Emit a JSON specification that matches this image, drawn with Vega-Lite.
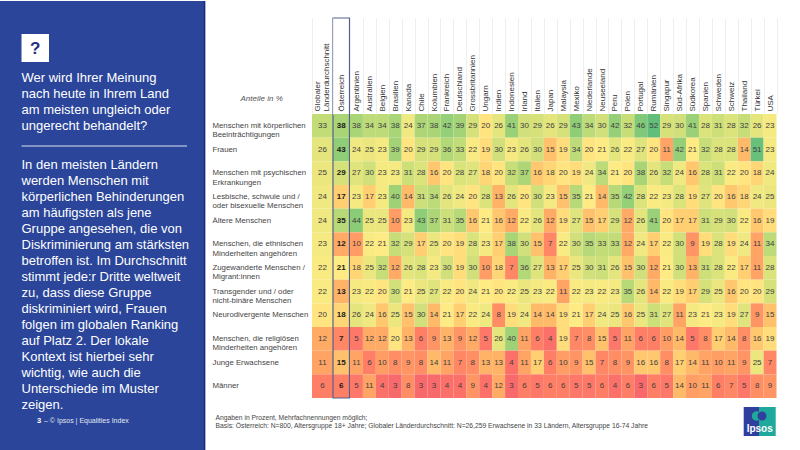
{"$schema":"https://vega.github.io/schema/vega-lite/v6.json","padding":0,"background":"white","spacing":0,
"config":{"view":{"stroke":null},"font":"Liberation Sans","axisX":{"domain":false,"tickBand":"extent","tickSize":96,"tickColor":"#eeeeee","labelAngle":-90,"labelAlign":"left","labelBaseline":"middle","labelPadding":-93,"labelFont":"Liberation Sans","labelFontSize":8,"labelColor":"#333333","labelLineHeight":9,"minExtent":113,"maxExtent":113}},
"datasets":{"zellen":[
{"Gruppe":"Körper","Land":"Global","Wert":33},{"Gruppe":"Körper","Land":"Österreich","Wert":38},{"Gruppe":"Körper","Land":"Argentinien","Wert":38},{"Gruppe":"Körper","Land":"Australien","Wert":34},{"Gruppe":"Körper","Land":"Belgien","Wert":34},{"Gruppe":"Körper","Land":"Brasilien","Wert":38},{"Gruppe":"Körper","Land":"Kanada","Wert":24},{"Gruppe":"Körper","Land":"Chile","Wert":37},{"Gruppe":"Körper","Land":"Kolumbien","Wert":38},{"Gruppe":"Körper","Land":"Frankreich","Wert":42},{"Gruppe":"Körper","Land":"Deutschland","Wert":39},{"Gruppe":"Körper","Land":"Grossbritannien","Wert":29},{"Gruppe":"Körper","Land":"Ungarn","Wert":20},{"Gruppe":"Körper","Land":"Indien","Wert":26},{"Gruppe":"Körper","Land":"Indonesien","Wert":41},{"Gruppe":"Körper","Land":"Irland","Wert":30},{"Gruppe":"Körper","Land":"Italien","Wert":29},{"Gruppe":"Körper","Land":"Japan","Wert":26},{"Gruppe":"Körper","Land":"Malaysia","Wert":29},{"Gruppe":"Körper","Land":"Mexiko","Wert":43},{"Gruppe":"Körper","Land":"Niederlande","Wert":34},{"Gruppe":"Körper","Land":"Neuseeland","Wert":30},{"Gruppe":"Körper","Land":"Peru","Wert":42},{"Gruppe":"Körper","Land":"Polen","Wert":32},{"Gruppe":"Körper","Land":"Portugal","Wert":46},{"Gruppe":"Körper","Land":"Rumänien","Wert":52},{"Gruppe":"Körper","Land":"Singapur","Wert":29},{"Gruppe":"Körper","Land":"Süd-Afrika","Wert":30},{"Gruppe":"Körper","Land":"Südkorea","Wert":41},{"Gruppe":"Körper","Land":"Spanien","Wert":28},{"Gruppe":"Körper","Land":"Schweden","Wert":31},{"Gruppe":"Körper","Land":"Schweiz","Wert":28},{"Gruppe":"Körper","Land":"Thailand","Wert":32},{"Gruppe":"Körper","Land":"Türkei","Wert":26},{"Gruppe":"Körper","Land":"USA","Wert":23},
{"Gruppe":"Frauen","Land":"Global","Wert":26},{"Gruppe":"Frauen","Land":"Österreich","Wert":43},{"Gruppe":"Frauen","Land":"Argentinien","Wert":24},{"Gruppe":"Frauen","Land":"Australien","Wert":25},{"Gruppe":"Frauen","Land":"Belgien","Wert":23},{"Gruppe":"Frauen","Land":"Brasilien","Wert":39},{"Gruppe":"Frauen","Land":"Kanada","Wert":20},{"Gruppe":"Frauen","Land":"Chile","Wert":29},{"Gruppe":"Frauen","Land":"Kolumbien","Wert":29},{"Gruppe":"Frauen","Land":"Frankreich","Wert":36},{"Gruppe":"Frauen","Land":"Deutschland","Wert":33},{"Gruppe":"Frauen","Land":"Grossbritannien","Wert":22},{"Gruppe":"Frauen","Land":"Ungarn","Wert":19},{"Gruppe":"Frauen","Land":"Indien","Wert":30},{"Gruppe":"Frauen","Land":"Indonesien","Wert":23},{"Gruppe":"Frauen","Land":"Irland","Wert":26},{"Gruppe":"Frauen","Land":"Italien","Wert":30},{"Gruppe":"Frauen","Land":"Japan","Wert":15},{"Gruppe":"Frauen","Land":"Malaysia","Wert":19},{"Gruppe":"Frauen","Land":"Mexiko","Wert":34},{"Gruppe":"Frauen","Land":"Niederlande","Wert":20},{"Gruppe":"Frauen","Land":"Neuseeland","Wert":21},{"Gruppe":"Frauen","Land":"Peru","Wert":26},{"Gruppe":"Frauen","Land":"Polen","Wert":22},{"Gruppe":"Frauen","Land":"Portugal","Wert":27},{"Gruppe":"Frauen","Land":"Rumänien","Wert":20},{"Gruppe":"Frauen","Land":"Singapur","Wert":11},{"Gruppe":"Frauen","Land":"Süd-Afrika","Wert":42},{"Gruppe":"Frauen","Land":"Südkorea","Wert":21},{"Gruppe":"Frauen","Land":"Spanien","Wert":32},{"Gruppe":"Frauen","Land":"Schweden","Wert":28},{"Gruppe":"Frauen","Land":"Schweiz","Wert":28},{"Gruppe":"Frauen","Land":"Thailand","Wert":14},{"Gruppe":"Frauen","Land":"Türkei","Wert":51},{"Gruppe":"Frauen","Land":"USA","Wert":23},
{"Gruppe":"Psyche","Land":"Global","Wert":25},{"Gruppe":"Psyche","Land":"Österreich","Wert":29},{"Gruppe":"Psyche","Land":"Argentinien","Wert":27},{"Gruppe":"Psyche","Land":"Australien","Wert":30},{"Gruppe":"Psyche","Land":"Belgien","Wert":23},{"Gruppe":"Psyche","Land":"Brasilien","Wert":23},{"Gruppe":"Psyche","Land":"Kanada","Wert":31},{"Gruppe":"Psyche","Land":"Chile","Wert":28},{"Gruppe":"Psyche","Land":"Kolumbien","Wert":16},{"Gruppe":"Psyche","Land":"Frankreich","Wert":20},{"Gruppe":"Psyche","Land":"Deutschland","Wert":28},{"Gruppe":"Psyche","Land":"Grossbritannien","Wert":27},{"Gruppe":"Psyche","Land":"Ungarn","Wert":18},{"Gruppe":"Psyche","Land":"Indien","Wert":20},{"Gruppe":"Psyche","Land":"Indonesien","Wert":32},{"Gruppe":"Psyche","Land":"Irland","Wert":37},{"Gruppe":"Psyche","Land":"Italien","Wert":16},{"Gruppe":"Psyche","Land":"Japan","Wert":18},{"Gruppe":"Psyche","Land":"Malaysia","Wert":20},{"Gruppe":"Psyche","Land":"Mexiko","Wert":19},{"Gruppe":"Psyche","Land":"Niederlande","Wert":24},{"Gruppe":"Psyche","Land":"Neuseeland","Wert":34},{"Gruppe":"Psyche","Land":"Peru","Wert":21},{"Gruppe":"Psyche","Land":"Polen","Wert":20},{"Gruppe":"Psyche","Land":"Portugal","Wert":38},{"Gruppe":"Psyche","Land":"Rumänien","Wert":26},{"Gruppe":"Psyche","Land":"Singapur","Wert":32},{"Gruppe":"Psyche","Land":"Süd-Afrika","Wert":24},{"Gruppe":"Psyche","Land":"Südkorea","Wert":16},{"Gruppe":"Psyche","Land":"Spanien","Wert":28},{"Gruppe":"Psyche","Land":"Schweden","Wert":31},{"Gruppe":"Psyche","Land":"Schweiz","Wert":22},{"Gruppe":"Psyche","Land":"Thailand","Wert":20},{"Gruppe":"Psyche","Land":"Türkei","Wert":18},{"Gruppe":"Psyche","Land":"USA","Wert":24},
{"Gruppe":"LGB","Land":"Global","Wert":24},{"Gruppe":"LGB","Land":"Österreich","Wert":17},{"Gruppe":"LGB","Land":"Argentinien","Wert":23},{"Gruppe":"LGB","Land":"Australien","Wert":17},{"Gruppe":"LGB","Land":"Belgien","Wert":23},{"Gruppe":"LGB","Land":"Brasilien","Wert":40},{"Gruppe":"LGB","Land":"Kanada","Wert":14},{"Gruppe":"LGB","Land":"Chile","Wert":31},{"Gruppe":"LGB","Land":"Kolumbien","Wert":34},{"Gruppe":"LGB","Land":"Frankreich","Wert":26},{"Gruppe":"LGB","Land":"Deutschland","Wert":24},{"Gruppe":"LGB","Land":"Grossbritannien","Wert":20},{"Gruppe":"LGB","Land":"Ungarn","Wert":28},{"Gruppe":"LGB","Land":"Indien","Wert":13},{"Gruppe":"LGB","Land":"Indonesien","Wert":26},{"Gruppe":"LGB","Land":"Irland","Wert":20},{"Gruppe":"LGB","Land":"Italien","Wert":30},{"Gruppe":"LGB","Land":"Japan","Wert":23},{"Gruppe":"LGB","Land":"Malaysia","Wert":15},{"Gruppe":"LGB","Land":"Mexiko","Wert":35},{"Gruppe":"LGB","Land":"Niederlande","Wert":21},{"Gruppe":"LGB","Land":"Neuseeland","Wert":14},{"Gruppe":"LGB","Land":"Peru","Wert":35},{"Gruppe":"LGB","Land":"Polen","Wert":42},{"Gruppe":"LGB","Land":"Portugal","Wert":28},{"Gruppe":"LGB","Land":"Rumänien","Wert":22},{"Gruppe":"LGB","Land":"Singapur","Wert":23},{"Gruppe":"LGB","Land":"Süd-Afrika","Wert":28},{"Gruppe":"LGB","Land":"Südkorea","Wert":19},{"Gruppe":"LGB","Land":"Spanien","Wert":27},{"Gruppe":"LGB","Land":"Schweden","Wert":20},{"Gruppe":"LGB","Land":"Schweiz","Wert":16},{"Gruppe":"LGB","Land":"Thailand","Wert":18},{"Gruppe":"LGB","Land":"Türkei","Wert":24},{"Gruppe":"LGB","Land":"USA","Wert":25},
{"Gruppe":"Ältere","Land":"Global","Wert":24},{"Gruppe":"Ältere","Land":"Österreich","Wert":35},{"Gruppe":"Ältere","Land":"Argentinien","Wert":44},{"Gruppe":"Ältere","Land":"Australien","Wert":25},{"Gruppe":"Ältere","Land":"Belgien","Wert":25},{"Gruppe":"Ältere","Land":"Brasilien","Wert":10},{"Gruppe":"Ältere","Land":"Kanada","Wert":23},{"Gruppe":"Ältere","Land":"Chile","Wert":43},{"Gruppe":"Ältere","Land":"Kolumbien","Wert":37},{"Gruppe":"Ältere","Land":"Frankreich","Wert":31},{"Gruppe":"Ältere","Land":"Deutschland","Wert":35},{"Gruppe":"Ältere","Land":"Grossbritannien","Wert":16},{"Gruppe":"Ältere","Land":"Ungarn","Wert":21},{"Gruppe":"Ältere","Land":"Indien","Wert":16},{"Gruppe":"Ältere","Land":"Indonesien","Wert":12},{"Gruppe":"Ältere","Land":"Irland","Wert":22},{"Gruppe":"Ältere","Land":"Italien","Wert":26},{"Gruppe":"Ältere","Land":"Japan","Wert":12},{"Gruppe":"Ältere","Land":"Malaysia","Wert":19},{"Gruppe":"Ältere","Land":"Mexiko","Wert":27},{"Gruppe":"Ältere","Land":"Niederlande","Wert":15},{"Gruppe":"Ältere","Land":"Neuseeland","Wert":17},{"Gruppe":"Ältere","Land":"Peru","Wert":29},{"Gruppe":"Ältere","Land":"Polen","Wert":12},{"Gruppe":"Ältere","Land":"Portugal","Wert":26},{"Gruppe":"Ältere","Land":"Rumänien","Wert":41},{"Gruppe":"Ältere","Land":"Singapur","Wert":20},{"Gruppe":"Ältere","Land":"Süd-Afrika","Wert":17},{"Gruppe":"Ältere","Land":"Südkorea","Wert":17},{"Gruppe":"Ältere","Land":"Spanien","Wert":31},{"Gruppe":"Ältere","Land":"Schweden","Wert":29},{"Gruppe":"Ältere","Land":"Schweiz","Wert":30},{"Gruppe":"Ältere","Land":"Thailand","Wert":22},{"Gruppe":"Ältere","Land":"Türkei","Wert":16},{"Gruppe":"Ältere","Land":"USA","Wert":19},
{"Gruppe":"Ethnie","Land":"Global","Wert":23},{"Gruppe":"Ethnie","Land":"Österreich","Wert":12},{"Gruppe":"Ethnie","Land":"Argentinien","Wert":10},{"Gruppe":"Ethnie","Land":"Australien","Wert":22},{"Gruppe":"Ethnie","Land":"Belgien","Wert":21},{"Gruppe":"Ethnie","Land":"Brasilien","Wert":32},{"Gruppe":"Ethnie","Land":"Kanada","Wert":29},{"Gruppe":"Ethnie","Land":"Chile","Wert":17},{"Gruppe":"Ethnie","Land":"Kolumbien","Wert":25},{"Gruppe":"Ethnie","Land":"Frankreich","Wert":20},{"Gruppe":"Ethnie","Land":"Deutschland","Wert":19},{"Gruppe":"Ethnie","Land":"Grossbritannien","Wert":28},{"Gruppe":"Ethnie","Land":"Ungarn","Wert":23},{"Gruppe":"Ethnie","Land":"Indien","Wert":17},{"Gruppe":"Ethnie","Land":"Indonesien","Wert":38},{"Gruppe":"Ethnie","Land":"Irland","Wert":30},{"Gruppe":"Ethnie","Land":"Italien","Wert":15},{"Gruppe":"Ethnie","Land":"Japan","Wert":7},{"Gruppe":"Ethnie","Land":"Malaysia","Wert":22},{"Gruppe":"Ethnie","Land":"Mexiko","Wert":30},{"Gruppe":"Ethnie","Land":"Niederlande","Wert":35},{"Gruppe":"Ethnie","Land":"Neuseeland","Wert":33},{"Gruppe":"Ethnie","Land":"Peru","Wert":33},{"Gruppe":"Ethnie","Land":"Polen","Wert":12},{"Gruppe":"Ethnie","Land":"Portugal","Wert":24},{"Gruppe":"Ethnie","Land":"Rumänien","Wert":17},{"Gruppe":"Ethnie","Land":"Singapur","Wert":22},{"Gruppe":"Ethnie","Land":"Süd-Afrika","Wert":30},{"Gruppe":"Ethnie","Land":"Südkorea","Wert":9},{"Gruppe":"Ethnie","Land":"Spanien","Wert":19},{"Gruppe":"Ethnie","Land":"Schweden","Wert":28},{"Gruppe":"Ethnie","Land":"Schweiz","Wert":19},{"Gruppe":"Ethnie","Land":"Thailand","Wert":24},{"Gruppe":"Ethnie","Land":"Türkei","Wert":11},{"Gruppe":"Ethnie","Land":"USA","Wert":34},
{"Gruppe":"Migration","Land":"Global","Wert":22},{"Gruppe":"Migration","Land":"Österreich","Wert":21},{"Gruppe":"Migration","Land":"Argentinien","Wert":18},{"Gruppe":"Migration","Land":"Australien","Wert":25},{"Gruppe":"Migration","Land":"Belgien","Wert":32},{"Gruppe":"Migration","Land":"Brasilien","Wert":12},{"Gruppe":"Migration","Land":"Kanada","Wert":26},{"Gruppe":"Migration","Land":"Chile","Wert":28},{"Gruppe":"Migration","Land":"Kolumbien","Wert":23},{"Gruppe":"Migration","Land":"Frankreich","Wert":30},{"Gruppe":"Migration","Land":"Deutschland","Wert":19},{"Gruppe":"Migration","Land":"Grossbritannien","Wert":30},{"Gruppe":"Migration","Land":"Ungarn","Wert":10},{"Gruppe":"Migration","Land":"Indien","Wert":18},{"Gruppe":"Migration","Land":"Indonesien","Wert":7},{"Gruppe":"Migration","Land":"Irland","Wert":36},{"Gruppe":"Migration","Land":"Italien","Wert":27},{"Gruppe":"Migration","Land":"Japan","Wert":13},{"Gruppe":"Migration","Land":"Malaysia","Wert":17},{"Gruppe":"Migration","Land":"Mexiko","Wert":25},{"Gruppe":"Migration","Land":"Niederlande","Wert":30},{"Gruppe":"Migration","Land":"Neuseeland","Wert":31},{"Gruppe":"Migration","Land":"Peru","Wert":26},{"Gruppe":"Migration","Land":"Polen","Wert":15},{"Gruppe":"Migration","Land":"Portugal","Wert":30},{"Gruppe":"Migration","Land":"Rumänien","Wert":12},{"Gruppe":"Migration","Land":"Singapur","Wert":21},{"Gruppe":"Migration","Land":"Süd-Afrika","Wert":30},{"Gruppe":"Migration","Land":"Südkorea","Wert":13},{"Gruppe":"Migration","Land":"Spanien","Wert":31},{"Gruppe":"Migration","Land":"Schweden","Wert":28},{"Gruppe":"Migration","Land":"Schweiz","Wert":22},{"Gruppe":"Migration","Land":"Thailand","Wert":17},{"Gruppe":"Migration","Land":"Türkei","Wert":11},{"Gruppe":"Migration","Land":"USA","Wert":28},
{"Gruppe":"Trans","Land":"Global","Wert":22},{"Gruppe":"Trans","Land":"Österreich","Wert":13},{"Gruppe":"Trans","Land":"Argentinien","Wert":23},{"Gruppe":"Trans","Land":"Australien","Wert":22},{"Gruppe":"Trans","Land":"Belgien","Wert":20},{"Gruppe":"Trans","Land":"Brasilien","Wert":30},{"Gruppe":"Trans","Land":"Kanada","Wert":21},{"Gruppe":"Trans","Land":"Chile","Wert":25},{"Gruppe":"Trans","Land":"Kolumbien","Wert":27},{"Gruppe":"Trans","Land":"Frankreich","Wert":22},{"Gruppe":"Trans","Land":"Deutschland","Wert":20},{"Gruppe":"Trans","Land":"Grossbritannien","Wert":24},{"Gruppe":"Trans","Land":"Ungarn","Wert":21},{"Gruppe":"Trans","Land":"Indien","Wert":20},{"Gruppe":"Trans","Land":"Indonesien","Wert":22},{"Gruppe":"Trans","Land":"Irland","Wert":25},{"Gruppe":"Trans","Land":"Italien","Wert":23},{"Gruppe":"Trans","Land":"Japan","Wert":22},{"Gruppe":"Trans","Land":"Malaysia","Wert":11},{"Gruppe":"Trans","Land":"Mexiko","Wert":22},{"Gruppe":"Trans","Land":"Niederlande","Wert":23},{"Gruppe":"Trans","Land":"Neuseeland","Wert":22},{"Gruppe":"Trans","Land":"Peru","Wert":23},{"Gruppe":"Trans","Land":"Polen","Wert":35},{"Gruppe":"Trans","Land":"Portugal","Wert":26},{"Gruppe":"Trans","Land":"Rumänien","Wert":14},{"Gruppe":"Trans","Land":"Singapur","Wert":22},{"Gruppe":"Trans","Land":"Süd-Afrika","Wert":19},{"Gruppe":"Trans","Land":"Südkorea","Wert":17},{"Gruppe":"Trans","Land":"Spanien","Wert":29},{"Gruppe":"Trans","Land":"Schweden","Wert":25},{"Gruppe":"Trans","Land":"Schweiz","Wert":16},{"Gruppe":"Trans","Land":"Thailand","Wert":20},{"Gruppe":"Trans","Land":"Türkei","Wert":20},{"Gruppe":"Trans","Land":"USA","Wert":29},
{"Gruppe":"Neuro","Land":"Global","Wert":20},{"Gruppe":"Neuro","Land":"Österreich","Wert":18},{"Gruppe":"Neuro","Land":"Argentinien","Wert":26},{"Gruppe":"Neuro","Land":"Australien","Wert":24},{"Gruppe":"Neuro","Land":"Belgien","Wert":16},{"Gruppe":"Neuro","Land":"Brasilien","Wert":25},{"Gruppe":"Neuro","Land":"Kanada","Wert":15},{"Gruppe":"Neuro","Land":"Chile","Wert":30},{"Gruppe":"Neuro","Land":"Kolumbien","Wert":14},{"Gruppe":"Neuro","Land":"Frankreich","Wert":21},{"Gruppe":"Neuro","Land":"Deutschland","Wert":17},{"Gruppe":"Neuro","Land":"Grossbritannien","Wert":22},{"Gruppe":"Neuro","Land":"Ungarn","Wert":24},{"Gruppe":"Neuro","Land":"Indien","Wert":8},{"Gruppe":"Neuro","Land":"Indonesien","Wert":19},{"Gruppe":"Neuro","Land":"Irland","Wert":24},{"Gruppe":"Neuro","Land":"Italien","Wert":14},{"Gruppe":"Neuro","Land":"Japan","Wert":14},{"Gruppe":"Neuro","Land":"Malaysia","Wert":19},{"Gruppe":"Neuro","Land":"Mexiko","Wert":21},{"Gruppe":"Neuro","Land":"Niederlande","Wert":17},{"Gruppe":"Neuro","Land":"Neuseeland","Wert":24},{"Gruppe":"Neuro","Land":"Peru","Wert":25},{"Gruppe":"Neuro","Land":"Polen","Wert":16},{"Gruppe":"Neuro","Land":"Portugal","Wert":25},{"Gruppe":"Neuro","Land":"Rumänien","Wert":31},{"Gruppe":"Neuro","Land":"Singapur","Wert":27},{"Gruppe":"Neuro","Land":"Süd-Afrika","Wert":11},{"Gruppe":"Neuro","Land":"Südkorea","Wert":23},{"Gruppe":"Neuro","Land":"Spanien","Wert":21},{"Gruppe":"Neuro","Land":"Schweden","Wert":23},{"Gruppe":"Neuro","Land":"Schweiz","Wert":19},{"Gruppe":"Neuro","Land":"Thailand","Wert":27},{"Gruppe":"Neuro","Land":"Türkei","Wert":9},{"Gruppe":"Neuro","Land":"USA","Wert":15},
{"Gruppe":"Religion","Land":"Global","Wert":12},{"Gruppe":"Religion","Land":"Österreich","Wert":7},{"Gruppe":"Religion","Land":"Argentinien","Wert":5},{"Gruppe":"Religion","Land":"Australien","Wert":12},{"Gruppe":"Religion","Land":"Belgien","Wert":12},{"Gruppe":"Religion","Land":"Brasilien","Wert":20},{"Gruppe":"Religion","Land":"Kanada","Wert":13},{"Gruppe":"Religion","Land":"Chile","Wert":6},{"Gruppe":"Religion","Land":"Kolumbien","Wert":9},{"Gruppe":"Religion","Land":"Frankreich","Wert":13},{"Gruppe":"Religion","Land":"Deutschland","Wert":9},{"Gruppe":"Religion","Land":"Grossbritannien","Wert":12},{"Gruppe":"Religion","Land":"Ungarn","Wert":5},{"Gruppe":"Religion","Land":"Indien","Wert":26},{"Gruppe":"Religion","Land":"Indonesien","Wert":40},{"Gruppe":"Religion","Land":"Irland","Wert":11},{"Gruppe":"Religion","Land":"Italien","Wert":6},{"Gruppe":"Religion","Land":"Japan","Wert":4},{"Gruppe":"Religion","Land":"Malaysia","Wert":19},{"Gruppe":"Religion","Land":"Mexiko","Wert":7},{"Gruppe":"Religion","Land":"Niederlande","Wert":8},{"Gruppe":"Religion","Land":"Neuseeland","Wert":15},{"Gruppe":"Religion","Land":"Peru","Wert":5},{"Gruppe":"Religion","Land":"Polen","Wert":11},{"Gruppe":"Religion","Land":"Portugal","Wert":6},{"Gruppe":"Religion","Land":"Rumänien","Wert":6},{"Gruppe":"Religion","Land":"Singapur","Wert":10},{"Gruppe":"Religion","Land":"Süd-Afrika","Wert":14},{"Gruppe":"Religion","Land":"Südkorea","Wert":5},{"Gruppe":"Religion","Land":"Spanien","Wert":8},{"Gruppe":"Religion","Land":"Schweden","Wert":17},{"Gruppe":"Religion","Land":"Schweiz","Wert":14},{"Gruppe":"Religion","Land":"Thailand","Wert":8},{"Gruppe":"Religion","Land":"Türkei","Wert":16},{"Gruppe":"Religion","Land":"USA","Wert":19},
{"Gruppe":"Junge","Land":"Global","Wert":11},{"Gruppe":"Junge","Land":"Österreich","Wert":15},{"Gruppe":"Junge","Land":"Argentinien","Wert":11},{"Gruppe":"Junge","Land":"Australien","Wert":6},{"Gruppe":"Junge","Land":"Belgien","Wert":10},{"Gruppe":"Junge","Land":"Brasilien","Wert":8},{"Gruppe":"Junge","Land":"Kanada","Wert":9},{"Gruppe":"Junge","Land":"Chile","Wert":8},{"Gruppe":"Junge","Land":"Kolumbien","Wert":14},{"Gruppe":"Junge","Land":"Frankreich","Wert":11},{"Gruppe":"Junge","Land":"Deutschland","Wert":7},{"Gruppe":"Junge","Land":"Grossbritannien","Wert":8},{"Gruppe":"Junge","Land":"Ungarn","Wert":13},{"Gruppe":"Junge","Land":"Indien","Wert":13},{"Gruppe":"Junge","Land":"Indonesien","Wert":4},{"Gruppe":"Junge","Land":"Irland","Wert":11},{"Gruppe":"Junge","Land":"Italien","Wert":17},{"Gruppe":"Junge","Land":"Japan","Wert":6},{"Gruppe":"Junge","Land":"Malaysia","Wert":10},{"Gruppe":"Junge","Land":"Mexiko","Wert":9},{"Gruppe":"Junge","Land":"Niederlande","Wert":15},{"Gruppe":"Junge","Land":"Neuseeland","Wert":7},{"Gruppe":"Junge","Land":"Peru","Wert":8},{"Gruppe":"Junge","Land":"Polen","Wert":9},{"Gruppe":"Junge","Land":"Portugal","Wert":16},{"Gruppe":"Junge","Land":"Rumänien","Wert":16},{"Gruppe":"Junge","Land":"Singapur","Wert":8},{"Gruppe":"Junge","Land":"Süd-Afrika","Wert":17},{"Gruppe":"Junge","Land":"Südkorea","Wert":14},{"Gruppe":"Junge","Land":"Spanien","Wert":11},{"Gruppe":"Junge","Land":"Schweden","Wert":10},{"Gruppe":"Junge","Land":"Schweiz","Wert":11},{"Gruppe":"Junge","Land":"Thailand","Wert":9},{"Gruppe":"Junge","Land":"Türkei","Wert":25},{"Gruppe":"Junge","Land":"USA","Wert":7},
{"Gruppe":"Männer","Land":"Global","Wert":6},{"Gruppe":"Männer","Land":"Österreich","Wert":6},{"Gruppe":"Männer","Land":"Argentinien","Wert":5},{"Gruppe":"Männer","Land":"Australien","Wert":11},{"Gruppe":"Männer","Land":"Belgien","Wert":4},{"Gruppe":"Männer","Land":"Brasilien","Wert":3},{"Gruppe":"Männer","Land":"Kanada","Wert":8},{"Gruppe":"Männer","Land":"Chile","Wert":3},{"Gruppe":"Männer","Land":"Kolumbien","Wert":3},{"Gruppe":"Männer","Land":"Frankreich","Wert":4},{"Gruppe":"Männer","Land":"Deutschland","Wert":4},{"Gruppe":"Männer","Land":"Grossbritannien","Wert":9},{"Gruppe":"Männer","Land":"Ungarn","Wert":4},{"Gruppe":"Männer","Land":"Indien","Wert":12},{"Gruppe":"Männer","Land":"Indonesien","Wert":3},{"Gruppe":"Männer","Land":"Irland","Wert":6},{"Gruppe":"Männer","Land":"Italien","Wert":5},{"Gruppe":"Männer","Land":"Japan","Wert":6},{"Gruppe":"Männer","Land":"Malaysia","Wert":6},{"Gruppe":"Männer","Land":"Mexiko","Wert":5},{"Gruppe":"Männer","Land":"Niederlande","Wert":5},{"Gruppe":"Männer","Land":"Neuseeland","Wert":6},{"Gruppe":"Männer","Land":"Peru","Wert":4},{"Gruppe":"Männer","Land":"Polen","Wert":6},{"Gruppe":"Männer","Land":"Portugal","Wert":3},{"Gruppe":"Männer","Land":"Rumänien","Wert":6},{"Gruppe":"Männer","Land":"Singapur","Wert":5},{"Gruppe":"Männer","Land":"Süd-Afrika","Wert":14},{"Gruppe":"Männer","Land":"Südkorea","Wert":10},{"Gruppe":"Männer","Land":"Spanien","Wert":11},{"Gruppe":"Männer","Land":"Schweden","Wert":6},{"Gruppe":"Männer","Land":"Schweiz","Wert":7},{"Gruppe":"Männer","Land":"Thailand","Wert":5},{"Gruppe":"Männer","Land":"Türkei","Wert":8},{"Gruppe":"Männer","Land":"USA","Wert":9}
]},
"hconcat":[
{"width":205,"height":284,
"layer":[
{"data":{"values":[{"Feld":"Seitenleiste"}]},"mark":{"type":"rect","fill":"#2A4599","clip":false},"encoding":{"x":{"datum":0,"type":"quantitative","scale":{"domain":[0,205],"nice":false},"axis":null},"x2":{"datum":205},"y":{"datum":0,"type":"quantitative","scale":{"domain":[397,113],"nice":false,"zero":false},"axis":null},"y2":{"datum":450}}},
{"data":{"values":[{"Feld":"Frage"}]},"mark":{"type":"rect","fill":"white"},"encoding":{"x":{"datum":21.5,"type":"quantitative"},"x2":{"datum":49},"y":{"datum":33,"type":"quantitative"},"y2":{"datum":61}}},
{"data":{"values":[{"Text":"?"}]},"mark":{"type":"text","font":"Liberation Sans","fontWeight":"bold","fontSize":17,"color":"#1F2F80","align":"center","baseline":"middle"},"encoding":{"x":{"datum":35.2,"type":"quantitative"},"y":{"datum":47.5,"type":"quantitative"},"text":{"field":"Text"}}},
{"data":{"values":[{"Text":"Wer wird Ihrer Meinung\nnach heute in Ihrem Land\nam meisten ungleich oder\nungerecht behandelt?"}]},"mark":{"type":"text","font":"Liberation Sans","fontSize":13,"color":"white","align":"left","baseline":"middle","lineBreak":"\n","lineHeight":16},"encoding":{"x":{"datum":21.5,"type":"quantitative"},"y":{"datum":77.3,"type":"quantitative"},"text":{"field":"Text"}}},
{"data":{"values":[{"Feld":"Trenner"}]},"mark":{"type":"rule","color":"#DDE3F2","strokeWidth":1},"encoding":{"x":{"datum":21.5,"type":"quantitative"},"x2":{"datum":187},"y":{"datum":145,"type":"quantitative"}}},
{"data":{"values":[{"Text":"In den meisten Ländern\nwerden Menschen mit\nkörperlichen Behinderungen\nam häufigsten als jene\nGruppe angesehen, die von\nDiskriminierung am stärksten\nbetroffen ist. Im Durchschnitt\nstimmt jede:r Dritte weltweit\nzu, dass diese Gruppe\ndiskriminiert wird, Frauen\nfolgen im globalen Ranking\nauf Platz 2. Der lokale\nKontext ist hierbei sehr\nwichtig, wie auch die\nUnterschiede im Muster\nzeigen."}]},"mark":{"type":"text","font":"Liberation Sans","fontSize":13,"color":"white","align":"left","baseline":"middle","lineBreak":"\n","lineHeight":16},"encoding":{"x":{"datum":21.5,"type":"quantitative"},"y":{"datum":164,"type":"quantitative"},"text":{"field":"Text"}}},
{"data":{"values":[{"Text":"3"}]},"mark":{"type":"text","font":"Liberation Sans","fontSize":7.5,"fontWeight":"bold","color":"white","align":"left","baseline":"middle"},"encoding":{"x":{"datum":37,"type":"quantitative"},"y":{"datum":420,"type":"quantitative"},"text":{"field":"Text"}}},
{"data":{"values":[{"Text":"–  © Ipsos | Equalities Index"}]},"mark":{"type":"text","font":"Liberation Sans","fontSize":7,"color":"#E3E7F3","align":"left","baseline":"middle"},"encoding":{"x":{"datum":44,"type":"quantitative"},"y":{"datum":420,"type":"quantitative"},"text":{"field":"Text"}}},
{"data":{"values":[{"Feld":"Kante"}]},"mark":{"type":"rule","color":"#1B2A7C","strokeWidth":1.5},"encoding":{"x":{"datum":204.6,"type":"quantitative"},"y":{"datum":0,"type":"quantitative"},"y2":{"datum":450}}}
]},
{"spacing":0,"vconcat":[
{"spacing":0,"bounds":"flush","hconcat":[
{"width":21,"height":284,"data":{"name":"zellen"},"transform":[{"filter":"datum.Land==='Global'"}],
"encoding":{"x":{"field":"Land","type":"nominal","sort":null,"scale":{"padding":0},"axis":{"orient":"top","title":null,"labelOffset":-5.5,"labelExpr":"datum.label==='Global'?['Globaler','Länderdurchschnitt']:''"}},"y":{"field":"Gruppe","type":"nominal","sort":null,"scale":{"padding":0},"axis":{"orient":"left","title":"Anteile in %","titleAngle":0,"titleX":-72,"titleY":-12,"titleAlign":"left","titleFont":"Liberation Sans","titleFontSize":8,"titleFontStyle":"italic","titleFontWeight":"normal","titleColor":"#555555","domain":false,"ticks":false,"labelAlign":"left","labelBaseline":"middle","labelPadding":100,"labelFont":"Liberation Sans","labelFontSize":7.8,"labelColor":"#444444","labelLineHeight":9.5,"labelLimit":0,"minExtent":106,"maxExtent":106,"labelExpr":"{'Körper':['Menschen mit körperlichen','Beeinträchtigungen'],'Frauen':'Frauen','Psyche':['Menschen mit psychischen','Erkrankungen'],'LGB':['Lesbische, schwule und /','oder bisexuelle Menschen'],'Ältere':'Ältere Menschen','Ethnie':['Menschen, die ethnischen','Minderheiten angehören'],'Migration':['Zugewanderte Menschen /','Migrant:innen'],'Trans':['Transgender und / oder','nicht-binäre Menschen'],'Neuro':'Neurodivergente Menschen','Religion':['Menschen, die religiösen','Minderheiten angehören'],'Junge':'Junge Erwachsene','Männer':'Männer'}[datum.label]"}}},
"layer":[{"mark":{"type":"rect"},"encoding":{"color":{"field":"Wert","type":"quantitative","legend":null,"scale":{"domain":[3,21,52],"range":["#F8696B","#FFEB84","#63BE7B"]}}}},
{"mark":{"type":"text","font":"Liberation Sans","fontSize":8,"color":"#404040"},"encoding":{"text":{"field":"Wert","type":"quantitative"}}}]},
{"width":16.5,"height":284,"resolve":{"scale":{"y":"independent"}},
"layer":[
{"data":{"name":"zellen"},"transform":[{"filter":"datum.Land==='Österreich'"}],"mark":{"type":"rect"},"encoding":{"x":{"field":"Land","type":"nominal","sort":null,"scale":{"type":"band","padding":0},"axis":{"orient":"top","title":null}},"y":{"field":"Gruppe","type":"nominal","sort":null,"scale":{"type":"band","padding":0},"axis":null},"color":{"field":"Wert","type":"quantitative","legend":null,"scale":{"domain":[3,21,52],"range":["#F8696B","#FFEB84","#63BE7B"]}}}},
{"data":{"name":"zellen"},"transform":[{"filter":"datum.Land==='Österreich'"}],"mark":{"type":"text","font":"Liberation Sans","fontSize":8,"fontWeight":"bold","color":"#1A1A1A"},"encoding":{"x":{"field":"Land","type":"nominal","sort":null},"y":{"field":"Gruppe","type":"nominal","sort":null,"scale":{"type":"band","padding":0},"axis":null},"text":{"field":"Wert","type":"quantitative"}}},
{"data":{"values":[{"Land":"Österreich","von":0,"bis":1}]},"mark":{"type":"rect","fill":null,"fillOpacity":0,"stroke":"#55608F","strokeWidth":1.2,"clip":false},"encoding":{"x":{"field":"Land","type":"nominal"},"y":{"field":"von","type":"quantitative","scale":{"domain":[0,1],"range":[284,-96],"nice":false},"axis":null},"y2":{"field":"bis"}}}
]},
{"width":426.5,"height":284,"data":{"name":"zellen"},"transform":[{"filter":"datum.Land!=='Global'&&datum.Land!=='Österreich'"}],
"encoding":{"x":{"field":"Land","type":"nominal","sort":null,"scale":{"padding":0},"axis":{"orient":"top","title":null}},"y":{"field":"Gruppe","type":"nominal","sort":null,"scale":{"padding":0},"axis":null}},
"layer":[{"mark":{"type":"rect"},"encoding":{"color":{"field":"Wert","type":"quantitative","legend":null,"scale":{"domain":[3,21,52],"range":["#F8696B","#FFEB84","#63BE7B"]}}}},
{"mark":{"type":"text","font":"Liberation Sans","fontSize":8,"color":"#404040"},"encoding":{"text":{"field":"Wert","type":"quantitative"}}}]}
]},
{"width":489,"height":53,
"layer":[
{"data":{"values":[{"Text":"Angaben in Prozent, Mehrfachnennungen möglich;\nBasis: Österreich: N=800, Altersgruppe 18+ Jahre;   Globaler Länderdurchschnitt: N=26,259 Erwachsene in 33 Ländern, Altersgruppe 16-74 Jahre"}]},"mark":{"type":"text","font":"Liberation Sans","fontSize":6.75,"color":"#444444","align":"left","baseline":"middle","lineBreak":"\n","lineHeight":8},"encoding":{"x":{"datum":214.5,"type":"quantitative","scale":{"domain":[311,800],"nice":false,"zero":false},"axis":null},"y":{"datum":415.5,"type":"quantitative","scale":{"domain":[450,397],"nice":false,"zero":false},"axis":null},"text":{"field":"Text"}}},
{"data":{"values":[{"Feld":"Logo links"}]},"mark":{"type":"rect","fill":"#2F3F9E"},"encoding":{"x":{"datum":742.7,"type":"quantitative"},"x2":{"datum":758},"y":{"datum":405,"type":"quantitative"},"y2":{"datum":434}}},
{"data":{"values":[{"Feld":"Logo rechts"}]},"mark":{"type":"rect","fill":"#1FA89C"},"encoding":{"x":{"datum":758,"type":"quantitative"},"x2":{"datum":774.7},"y":{"datum":405,"type":"quantitative"},"y2":{"datum":434}}},
{"data":{"values":[{"Feld":"Kopf links"}]},"mark":{"type":"point","filled":true,"color":"#1FA89C","size":90,"opacity":1},"encoding":{"x":{"datum":755.5,"type":"quantitative"},"y":{"datum":414,"type":"quantitative"}}},
{"data":{"values":[{"Feld":"Kopf rechts"}]},"mark":{"type":"point","filled":true,"color":"#2F3F9E","size":80,"opacity":1},"encoding":{"x":{"datum":761,"type":"quantitative"},"y":{"datum":414,"type":"quantitative"}}},
{"data":{"values":[{"Text":"Ipsos"}]},"mark":{"type":"text","font":"Liberation Sans","fontWeight":"bold","fontSize":10,"color":"white","align":"center","baseline":"middle"},"encoding":{"x":{"datum":758.7,"type":"quantitative"},"y":{"datum":427,"type":"quantitative"},"text":{"field":"Text"}}}
]}
]}
]}
